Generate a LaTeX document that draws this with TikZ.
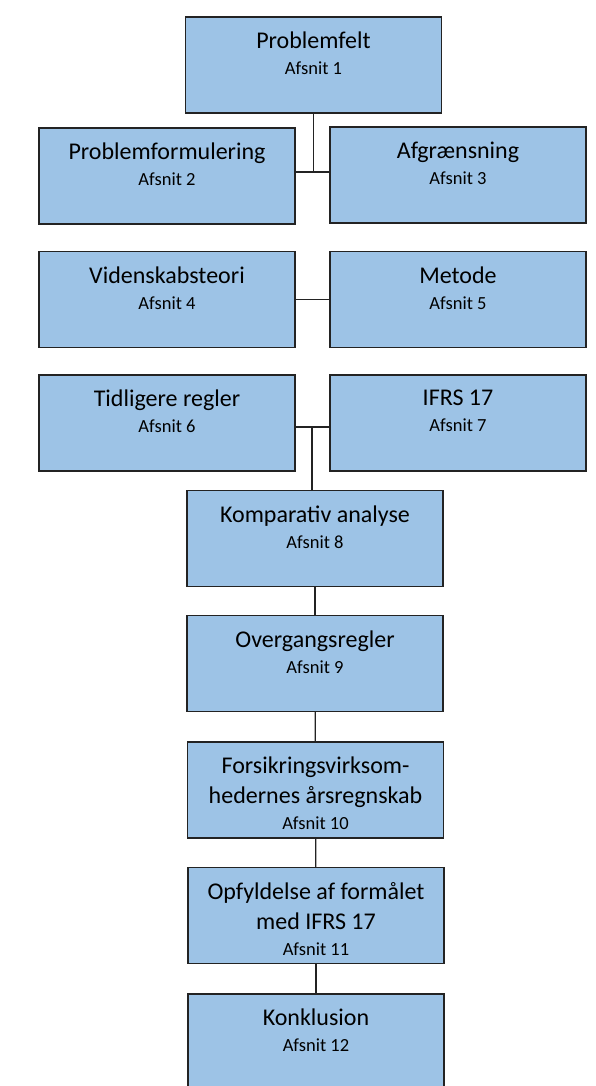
\documentclass[tikz,border=0pt]{standalone}
\usepackage{fontspec}
\setmainfont{Carlito}
\usetikzlibrary{positioning}
\definecolor{boksblaa}{RGB}{157,195,230}
\definecolor{kant}{RGB}{35,35,35}
\tikzset{
	boks/.style={draw=kant, line width=1.2pt, fill=boksblaa, inner sep=0pt, minimum width=256pt, minimum height=96pt},
	forbind/.style={draw=kant, line width=1.2pt}
}
\newcommand{\afsnit}[2]{\parbox[t][96pt][t]{252pt}{\centering
		\vspace*{15pt}
		{\fontsize{24}{30}\selectfont #1\par}
		{\fontsize{18.5}{26}\selectfont Afsnit #2\par}}}

\begin{document}
\begin{tikzpicture}[x=1pt,y=-1pt]
				\useasboundingbox[fill=white] (0,0) rectangle (596,1086);

				\node[boks] (felt) at (313.5,65) {\afsnit{Problemfelt}{1}};
				\node[boks] (formul) at (167,176) {\afsnit{Problemformulering}{2}};
				\node[boks] (afgr) at (458,175) {\afsnit{Afgrænsning}{3}};
				\node[boks] (viden) at (167,299.5) {\afsnit{Videnskabsteori}{4}};
				\node[boks] (metode) at (458,299.5) {\afsnit{Metode}{5}};
				\node[boks] (tidl) at (167,423) {\afsnit{Tidligere regler}{6}};
				\node[boks] (ifrs) at (458,423) {\afsnit{IFRS 17}{7}};
				\node[boks] (kompar) at (315,538.5) {\afsnit{Komparativ analyse}{8}};
				\node[boks] (overg) at (315,663.5) {\afsnit{Overgangsregler}{9}};
				\node[boks] (forsik) at (315.5,790) {\afsnit{Forsikringsvirksom-\\hedernes årsregnskab}{10}};
				\node[boks] (opfyld) at (316,915.5) {\afsnit{Opfyldelse af formålet\\med IFRS 17}{11}};
				\node[boks] (konkl) at (316,1042) {\afsnit{Konklusion}{12}};

				\coordinate (knude1) at (313.5,172);
				\coordinate (knude2) at (312,427);

				\draw[forbind] (felt.south) -- (knude1);
				\draw[forbind] (formul.east |- knude1) -- (afgr.west |- knude1);
				\draw[forbind] (viden) -- (metode);
				\draw[forbind] (tidl.east |- knude2) -- (ifrs.west |- knude2);
				\draw[forbind] (knude2) -- (kompar.north -| knude2);
				\draw[forbind] (kompar) -- (overg);
				\draw[forbind] (overg) -- (forsik);
				\draw[forbind] (forsik) -- (opfyld);
				\draw[forbind] (opfyld) -- (konkl);
\end{tikzpicture}
\end{document}
